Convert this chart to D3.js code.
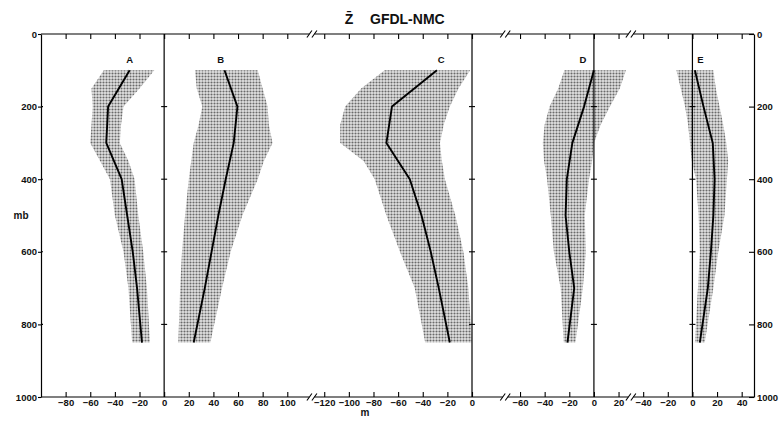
<!DOCTYPE html>
<html>
<head>
<meta charset="utf-8">
<script src="https://cdn.jsdelivr.net/npm/d3@7"></script>
<style>
  html, body { margin: 0; padding: 0; background: #fff; }
  svg { display: block; }
  text { font-family: "Liberation Sans", Arial, sans-serif; fill: #111; }
</style>
</head>
<body>
<svg id="chart" width="779" height="425"></svg>
<script>
// Pressure levels (mb) of the mean profiles and of the spread bands
const lineLevels = [100, 200, 300, 400, 500, 600, 700, 850];
const bandLevels = [100, 150, 200, 250, 300, 350, 400, 500, 600, 700, 850];

// Panel letters
const panelNames = ["A", "B", "C", "D", "E"];

// Mean height difference GFDL - NMC (m) at lineLevels
const meanA = [-28, -45.5, -47, -34.5, -30, -25.5, -22, -18];
const meanB = [49, 59.5, 56.5, 50, 44, 38.5, 33, 24];
const meanC = [-28.5, -65, -69.5, -50.5, -41, -33.5, -27, -18];
const meanD = [0, -8, -17.5, -22, -23, -20, -16, -21.5];
const meanE = [2, 9, 16.5, 18, 17, 15, 12.5, 6];

// Lower and upper edges of the shaded spread (m) at bandLevels
const lowA = [-49, -59, -58, -59, -60, -52, -44, -40, -33, -29, -26];
const highA = [-8, -20, -33, -35, -36, -29, -24, -21, -17, -14, -11.5];
const lowB = [25, 26.5, 31, 28, 24, 22, 20, 17, 14.5, 13, 11.5];
const highB = [76, 80, 84, 85, 88, 81, 76, 63.5, 54, 47, 37.5];
const lowC = [-71, -90, -103, -107, -107, -88, -79, -69.5, -58.5, -46.5, -38];
const highC = [-1.5, -11, -18, -23, -26, -24.5, -22, -13.5, -7, -3, 0];
const lowD = [-24, -29, -36, -40, -41.5, -40.5, -38, -35, -32.5, -27, -24.5];
const highD = [26, 21, 13, 5.5, 0, -1.5, -4, -7.5, -6.5, -9, -15];
const lowE = [-13, -9.5, -6, -3.5, -2, -0.5, 3, 5, 6, 4.5, 2];
const highE = [17, 19, 22, 25, 27.5, 29, 28, 26, 21, 17, 10];

// x extent of each panel's segment of the shared m axis
const domainA = [-100, 0];
const domainB = [0, 120];
const domainC = [-130, 27];
const domainD = [-72, 30];
const domainE = [-50, 50];

// Tick labels of each panel
const ticksA = [-80, -60, -40, -20, 0];
const ticksB = [20, 40, 60, 80, 100];
const ticksC = [-120, -100, -80, -60, -40, -20, 0];
const ticksD = [-60, -40, -20, 0, 20];
const ticksE = [-40, -20, 0, 20, 40];

// Value (m) above which each panel letter is centred
const letterAt = [-28, 46, -25, -9, 6.5];

// Pressure axis
const pressureTicks = [0, 200, 400, 600, 800, 1000];

const svg = d3.select("#chart");
const plotLeft = 41, plotRight = 754, plotTop = 34, plotBottom = 397;
const labelFont = "Liberation Sans, Arial, sans-serif";

const y = d3.scaleLinear().domain([0, 1000]).range([plotTop, plotBottom]);

// Build one x scale per panel; all share the same m-per-pixel ratio
const domains = [domainA, domainB, domainC, domainD, domainE];
const totalSpan = d3.sum(domains, d => d[1] - d[0]);
const pxPerM = (plotRight - plotLeft) / totalSpan;
let cursor = plotLeft;
const xs = domains.map(d => {
  const w = (d[1] - d[0]) * pxPerM;
  const s = d3.scaleLinear().domain(d).range([cursor, cursor + w]);
  cursor += w;
  return s;
});

const means = [meanA, meanB, meanC, meanD, meanE];
const lows = [lowA, lowB, lowC, lowD, lowE];
const highs = [highA, highB, highC, highD, highE];
const ticks = [ticksA, ticksB, ticksC, ticksD, ticksE];

// Stipple fill for the spread bands
const defs = svg.append("defs");
const pat = defs.append("pattern")
  .attr("id", "stipple").attr("patternUnits", "userSpaceOnUse")
  .attr("width", 3).attr("height", 3);
pat.append("rect").attr("width", 3).attr("height", 3).attr("fill", "#e2e2e2");
pat.append("circle").attr("cx", 1.5).attr("cy", 1.5).attr("r", 1.05).attr("fill", "#6a6a6a");

// Bands and mean profiles
panelNames.forEach((name, i) => {
  const x = xs[i];
  const band = bandLevels.map((p, j) => ({ p, lo: lows[i][j], hi: highs[i][j] }));
  svg.append("path")
    .datum(band)
    .attr("fill", "url(#stipple)")
    .attr("d", d3.area().y(d => y(d.p)).x0(d => x(d.lo)).x1(d => x(d.hi)));

  const prof = lineLevels.map((p, j) => ({ p, v: means[i][j] }));
  svg.append("path")
    .datum(prof)
    .attr("fill", "none").attr("stroke", "#000").attr("stroke-width", 1.9)
    .attr("stroke-linejoin", "round")
    .attr("d", d3.line().x(d => x(d.v)).y(d => y(d.p)));

  svg.append("text")
    .attr("x", x(letterAt[i])).attr("y", 63)
    .attr("text-anchor", "middle")
    .attr("font-size", 9.5).attr("font-weight", "bold")
    .text(name);
});

// Top and bottom frame lines, interrupted at the axis breaks
const breaks = [xs[1].range()[1], xs[2].range()[1], xs[3].range()[1]];
const gap = 2.5;
const segs = [];
let start = plotLeft;
breaks.forEach(b => { segs.push([start, b - gap]); start = b + gap; });
segs.push([start, plotRight]);
[plotTop, plotBottom].forEach(yy => {
  segs.forEach(s => {
    svg.append("line").attr("x1", s[0]).attr("x2", s[1]).attr("y1", yy).attr("y2", yy)
      .attr("stroke", "#000").attr("stroke-width", 1.2);
  });
  breaks.forEach(b => {
    [-gap, gap].forEach(o => {
      svg.append("line")
        .attr("x1", b + o - 2.5).attr("y1", yy + 3.5)
        .attr("x2", b + o + 2.5).attr("y2", yy - 3.5)
        .attr("stroke", "#000").attr("stroke-width", 1.1);
    });
  });
});

// Tick marks on the m axes (top: no labels, bottom: labels)
xs.forEach((x, i) => {
  const gTop = svg.append("g").attr("transform", `translate(0,${plotTop})`)
    .call(d3.axisTop(x).tickValues(ticks[i]).tickSizeInner(-5).tickSizeOuter(0).tickFormat(""));
  gTop.select(".domain").remove();
  const gBot = svg.append("g").attr("transform", `translate(0,${plotBottom})`)
    .call(d3.axisBottom(x).tickValues(ticks[i]).tickSizeInner(-5).tickSizeOuter(0).tickPadding(2.5)
      .tickFormat(d3.format("d")));
  gBot.select(".domain").remove();
  [gTop, gBot].forEach(g => g.selectAll("line").attr("stroke", "#000").attr("stroke-width", 1.1));
  gBot.selectAll("text").attr("font-size", 9.5).attr("font-weight", "bold")
    .attr("fill", "#111").style("font-family", labelFont);
});

// Pressure axes on both sides
const gl = svg.append("g").attr("transform", `translate(${plotLeft},0)`)
  .call(d3.axisLeft(y).tickValues(pressureTicks).tickSizeInner(3).tickSizeOuter(0).tickPadding(1)
    .tickFormat(d3.format("d")));
const gr = svg.append("g").attr("transform", `translate(${plotRight},0)`)
  .call(d3.axisRight(y).tickValues(pressureTicks).tickSizeInner(-5).tickSizeOuter(0).tickPadding(3)
    .tickFormat(d3.format("d")));
[gl, gr].forEach(g => {
  g.select(".domain").attr("stroke", "#000").attr("stroke-width", 1.2);
  g.selectAll("line").attr("stroke", "#000").attr("stroke-width", 1.1);
  g.selectAll("text").attr("font-size", 9.5).attr("font-weight", "bold").attr("fill", "#111")
    .style("font-family", labelFont);
});
// small inward stubs on the left pressure ticks
pressureTicks.slice(1, -1).forEach(p => {
  svg.append("line").attr("x1", plotLeft).attr("x2", plotLeft + 2).attr("y1", y(p)).attr("y2", y(p))
    .attr("stroke", "#000").attr("stroke-width", 1.1);
});

// Zero lines of the panels, with small pressure ticks
const zeroXs = [xs[0](0), xs[2](0), xs[3](0), xs[4](0)];
zeroXs.forEach(zx => {
  svg.append("line").attr("x1", zx).attr("x2", zx).attr("y1", plotTop).attr("y2", plotBottom)
    .attr("stroke", "#000").attr("stroke-width", 1.2);
  pressureTicks.slice(1, -1).forEach(p => {
    svg.append("line").attr("x1", zx - 3).attr("x2", zx + 3).attr("y1", y(p)).attr("y2", y(p))
      .attr("stroke", "#000").attr("stroke-width", 1.1);
  });
});

// Axis titles and chart title
svg.append("text").attr("x", 21).attr("y", 219).attr("text-anchor", "middle")
  .attr("font-size", 10).attr("font-weight", "bold").text("mb");
svg.append("text").attr("x", 365).attr("y", 416).attr("text-anchor", "middle")
  .attr("font-size", 10).attr("font-weight", "bold").text("m");
svg.append("text").attr("x", 349).attr("y", 24).attr("text-anchor", "middle")
  .attr("font-size", 14).attr("font-weight", "bold").text("Z\u0304");
svg.append("text").attr("x", 370).attr("y", 24)
  .attr("font-size", 14).attr("font-weight", "bold").text("GFDL-NMC");
</script>
</body>
</html>
